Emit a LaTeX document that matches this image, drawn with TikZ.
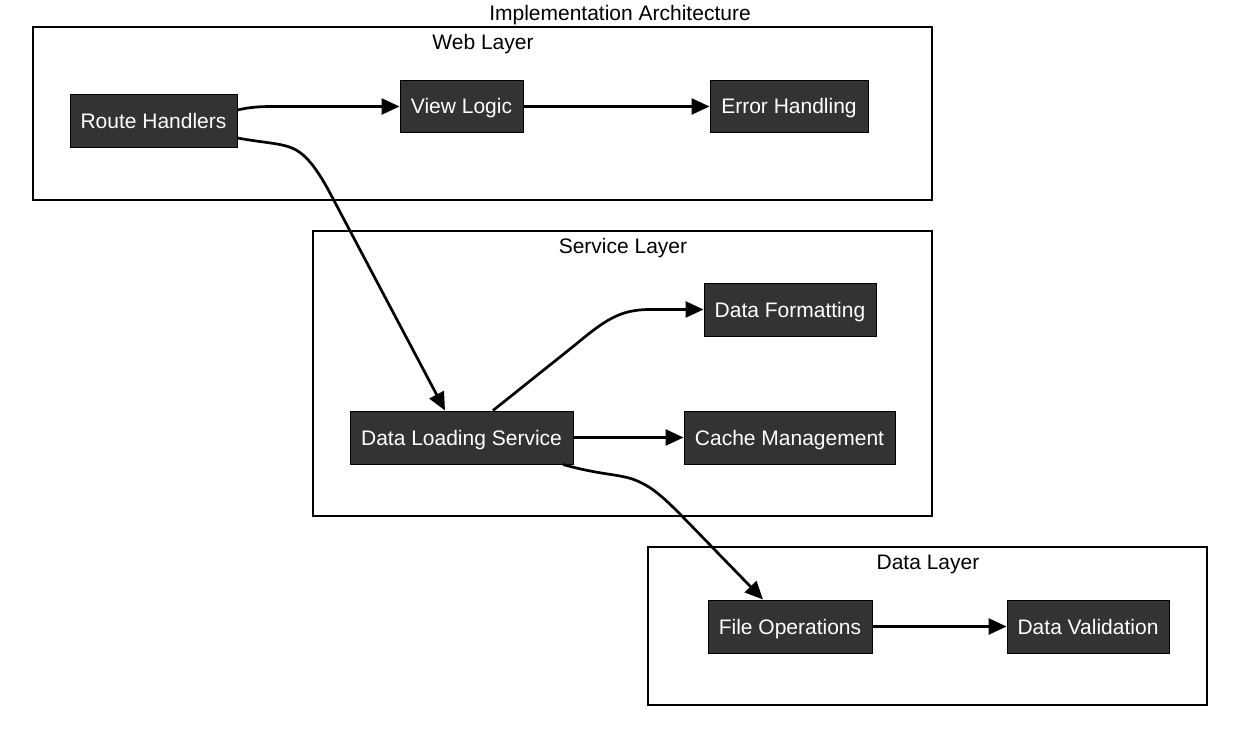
\documentclass[tikz,border=0pt]{standalone}
\usepackage{fontspec}
\setmainfont{Liberation Sans}
\usetikzlibrary{arrows.meta}
\definecolor{nodefill}{HTML}{333333}
\tikzset{
  box/.style={draw=black, line width=1pt, fill=nodefill, text=white, font=\fontsize{21}{24}\selectfont, minimum height=53pt, inner sep=0pt, text height=17pt, text depth=2pt},
  layer/.style={draw=black, line width=1.2pt, fill=none},
  lbl/.style={font=\fontsize{21}{24}\selectfont, text=black, text height=17pt, text depth=2pt},
  arr/.style={line width=2.7pt, -{Triangle[length=18pt,width=16pt]}}
}
\begin{document}
\begin{tikzpicture}[x=1pt,y=-1pt]
\useasboundingbox (0,0) rectangle (1236,730);
\node[lbl] (title) at (620,13) {Implementation Architecture};
% layers
\draw[layer] (33,27) rectangle (932,200);
\node[lbl] (wl) at (483,42.5) {Web Layer};
\draw[layer] (313,231) rectangle (932,516);
\node[lbl] (sl) at (623,245.5) {Service Layer};
\draw[layer] (648,547) rectangle (1207,705);
\node[lbl] (dl) at (928,561.5) {Data Layer};
% nodes
\node[box, minimum width=167pt] (rh) at (153.5,121) {Route Handlers};
\node[box, minimum width=123pt, minimum height=52pt] (vl) at (461.5,106.5) {View Logic};
\node[box, minimum width=158pt, minimum height=52pt] (eh) at (789,106.5) {Error Handling};
\node[box, minimum width=172pt] (df) at (790,309.5) {Data Formatting};
\node[box, minimum width=223pt] (dls) at (461.5,437.5) {Data Loading Service};
\node[box, minimum width=211pt] (cm) at (789.5,437.5) {Cache Management};
\node[box, minimum width=164pt] (fo) at (790,626.5) {File Operations};
\node[box, minimum width=162pt] (dv) at (1088,626.5) {Data Validation};
% edges
\draw[arr] ([yshift=11pt]rh.east) .. controls (255,106) and (265,106.5) .. (290,106.5) -- (vl.west);
\draw[arr] (vl) -- (eh);
\draw[arr] ([yshift=-17pt]rh.east) .. controls (265,143) and (280,143) .. (292,148)
  .. controls (304,153) and (315,165) .. (330,193) -- ([xshift=-16.5pt]dls.north);
\draw[arr] ([xshift=31.5pt]dls.north) -- (575,345) .. controls (605,320) and (620,309.5) .. (650,309.5) -- (df.west);
\draw[arr] (dls) -- (cm);
\draw[arr] ([xshift=101.5pt]dls.south) .. controls (600,475) and (620,474) .. (635,480)
  .. controls (650,486) and (660,494) .. (680,514) -- ([xshift=-27pt]fo.north);
\draw[arr] (fo) -- (dv);
\end{tikzpicture}
\end{document}
